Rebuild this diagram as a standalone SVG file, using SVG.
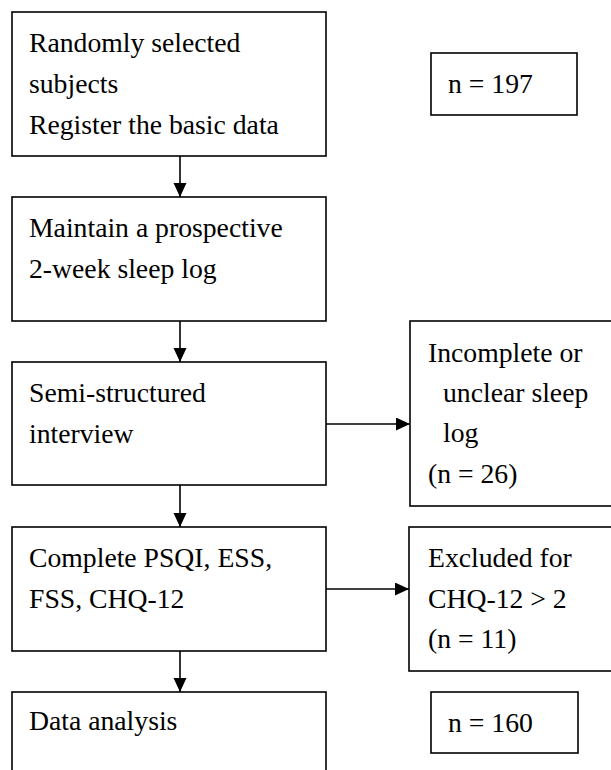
<svg xmlns="http://www.w3.org/2000/svg" width="611" height="770" viewBox="0 0 611 770">
<style>
.box{fill:#fff;stroke:#000;stroke-width:1.6}
.t{font-family:'Liberation Serif','Times New Roman',Times,serif;font-size:27.7px;fill:#000}
.c{stroke:#000;stroke-width:1.6;fill:none}
</style>
<defs>
<marker id="ah" markerUnits="userSpaceOnUse" markerWidth="16" markerHeight="14" refX="14" refY="6.5" orient="auto">
<path d="M0,0 L14,6.5 L0,13 Z" fill="#000"/>
</marker>
</defs>
<rect width="611" height="770" fill="#fff"/>
<g id="connectors">
<line class="c" x1="180" y1="156" x2="180" y2="197" marker-end="url(#ah)"/>
<line class="c" x1="180" y1="321" x2="180" y2="362" marker-end="url(#ah)"/>
<line class="c" x1="180" y1="485" x2="180" y2="527" marker-end="url(#ah)"/>
<line class="c" x1="180" y1="651" x2="180" y2="692" marker-end="url(#ah)"/>
<line class="c" x1="326" y1="424" x2="410" y2="424" marker-end="url(#ah)"/>
<line class="c" x1="326" y1="589" x2="409" y2="589" marker-end="url(#ah)"/>
</g>
<g id="n1">
<rect class="box" x="12" y="12" width="314" height="144"/>
<text class="t" x="29" y="52">Randomly selected</text>
<text class="t" x="29" y="93">subjects</text>
<text class="t" x="29" y="134">Register the basic data</text>
</g>
<g id="n197">
<rect class="box" x="431" y="53" width="146" height="62"/>
<text class="t" x="448" y="93">n = 197</text>
</g>
<g id="n2">
<rect class="box" x="12" y="197" width="314" height="124"/>
<text class="t" x="29" y="237">Maintain a prospective</text>
<text class="t" x="29" y="278">2-week sleep log</text>
</g>
<g id="n3">
<rect class="box" x="12" y="362" width="314" height="123"/>
<text class="t" x="29" y="402">Semi-structured</text>
<text class="t" x="29" y="443">interview</text>
</g>
<g id="nA">
<rect class="box" x="410" y="321" width="215" height="185"/>
<text class="t" x="428" y="362">Incomplete or</text>
<text class="t" x="443" y="402">unclear sleep</text>
<text class="t" x="443" y="442">log</text>
<text class="t" x="428" y="483">(n = 26)</text>
</g>
<g id="n4">
<rect class="box" x="12" y="527" width="314" height="124"/>
<text class="t" x="29" y="567">Complete PSQI, ESS,</text>
<text class="t" x="29" y="608">FSS, CHQ-12</text>
</g>
<g id="nB">
<rect class="box" x="409" y="527" width="216" height="144"/>
<text class="t" x="428" y="567">Excluded for</text>
<text class="t" x="428" y="608">CHQ-12 &gt; 2</text>
<text class="t" x="428" y="648">(n = 11)</text>
</g>
<g id="n5">
<rect class="box" x="12" y="692" width="314" height="100"/>
<text class="t" x="29" y="730">Data analysis</text>
</g>
<g id="n160">
<rect class="box" x="431" y="692" width="147" height="61"/>
<text class="t" x="448" y="732">n = 160</text>
</g>
</svg>
